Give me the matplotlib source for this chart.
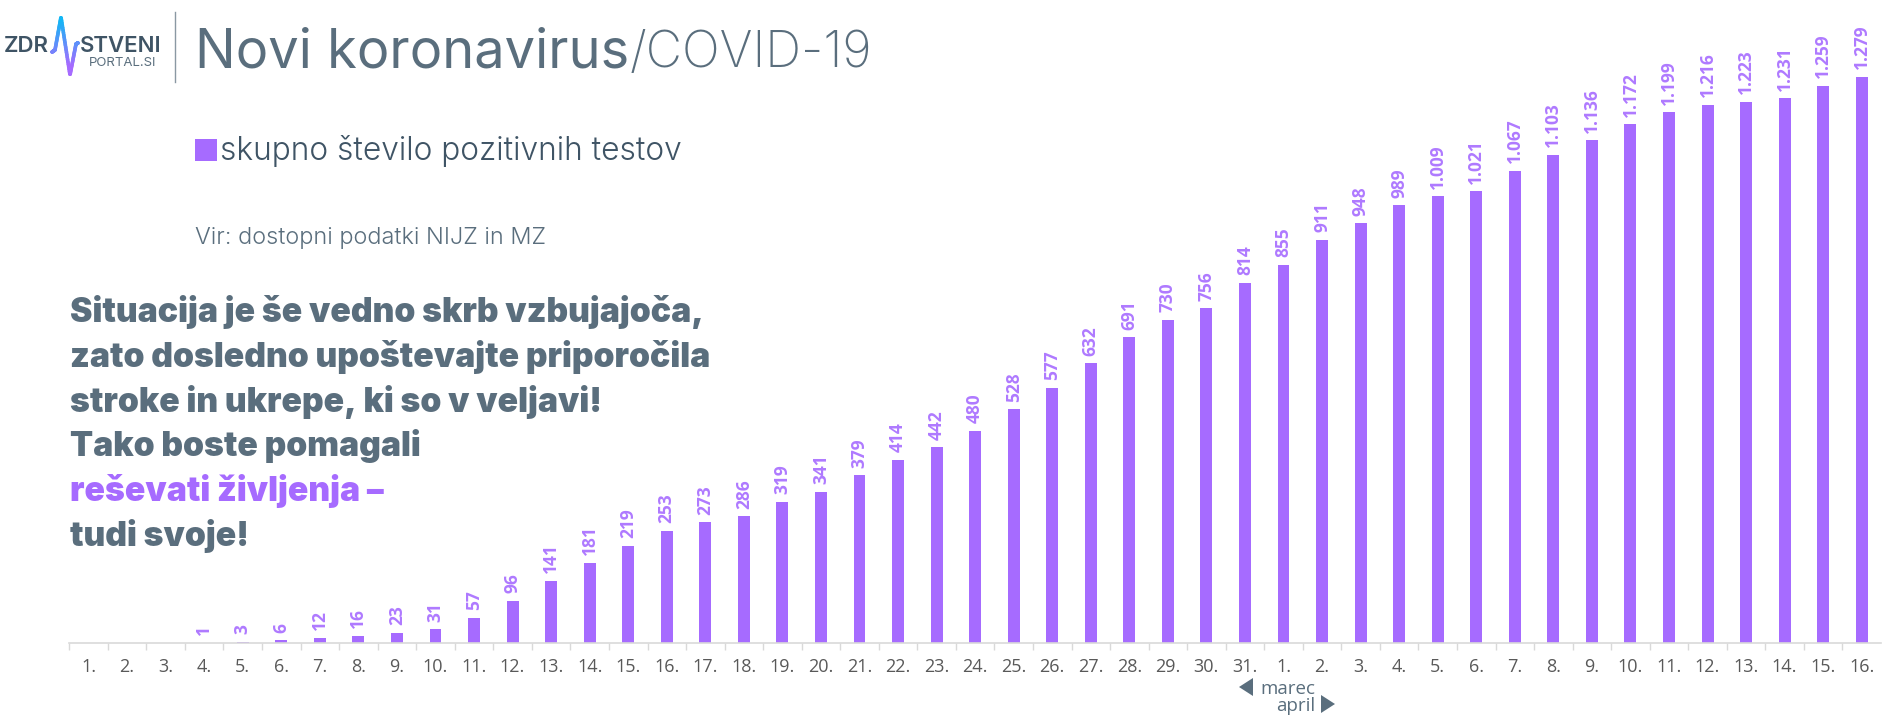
import matplotlib
matplotlib.use("Agg")
import numpy as np
import matplotlib.pyplot as plt
from matplotlib.collections import LineCollection
from matplotlib.colors import to_rgb
from matplotlib.patches import Polygon, Rectangle

# Data
days = [f"{d}." for d in range(1, 32)] + [f"{d}." for d in range(1, 17)]
positive_tests = [0, 0, 0, 1, 3, 6, 12, 16, 23, 31, 57, 96, 141, 181, 219, 253, 273, 286, 319, 341,
                  379, 414, 442, 480, 528, 577, 632, 691, 730, 756, 814, 855, 911, 948, 989, 1009,
                  1021, 1067, 1103, 1136, 1172, 1199, 1216, 1223, 1231, 1259, 1279]
message_lines = ["Situacija je še vedno skrb vzbujajoča,",
                 "zato dosledno upoštevajte priporočila",
                 "stroke in ukrepe, ki so v veljavi!",
                 "Tako boste pomagali",
                 "reševati življenja –",
                 "tudi svoje!"]

W, H = 1890, 720
PURPLE = "#A66BFF"
SLATE = "#5A6E7D"
DARK = "#3F5465"

fig = plt.figure(figsize=(W / 100, H / 100), dpi=100)

# Pixel overlay for all the text around the chart
bg = fig.add_axes([0, 0, 1, 1])
bg.set_xlim(0, W)
bg.set_ylim(H, 0)
bg.axis("off")

# Bars
ax = fig.add_axes([69.3 / W, (H - 643) / H, (1881 - 69.3) / W, 643 / H])
ax.patch.set_alpha(0)
x = np.arange(len(days))
ax.bar(x, positive_tests, width=0.31, color=PURPLE)
ax.set_xlim(-0.5, len(days) - 0.5)
ax.set_ylim(0, 643 / 566 * 1279)
ax.set_yticks([])
for s in ["top", "left", "right"]:
    ax.spines[s].set_visible(False)
ax.spines["bottom"].set_color("#D9D9D9")
ax.spines["bottom"].set_linewidth(1.2)

# tick marks sit between the categories, labels in the middle
ax.set_xticks(x - 0.5)
ax.set_xticklabels([])
ax.tick_params(axis="x", length=5, width=1, color="#D9D9D9")
for xi, day in zip(x, days):
    ax.annotate(day, (xi, 0), xytext=(0, -17), textcoords="offset points", ha="center", va="center",
                fontsize=13, color="#595959", family="Open Sans")

for xi, v in zip(x, positive_tests):
    if v == 0:
        continue
    label = f"{v:,}".replace(",", ".")
    ax.annotate(label, (xi, v), xytext=(0, 5.5), textcoords="offset points", ha="center", va="bottom",
                rotation=90, fontsize=12.5, color=PURPLE, family="Open Sans", fontweight=700, alpha=0.9)

# Header
bg.text(195, 67, "Novi koronavirus", fontsize=39, color=SLATE, family="Inter", fontweight=400, va="baseline")
bg.text(630, 67, "/COVID-19", fontsize=36, color=SLATE, family="Inter", fontweight=200, va="baseline")
bg.plot([175, 175], [12, 82], color="#8A98A3", lw=1)

# Logo
bg.text(4, 52, "ZDR", fontsize=16, color=DARK, family="Inter", fontweight=600, va="baseline")
bg.text(80, 52, "STVENI", fontsize=16, color=DARK, family="Inter", fontweight=600, va="baseline")
bg.text(123, 66, "PORTAL.SI", fontsize=9.5, color=SLATE, family="Inter", fontweight=400, va="baseline", ha="center")
logo_x = np.array([52, 55, 61, 70, 76, 78])
logo_y = np.array([52, 50, 17, 75, 44, 43])
t = np.linspace(0, len(logo_x) - 1, 120)
px = np.interp(t, np.arange(len(logo_x)), logo_x)
py = np.interp(t, np.arange(len(logo_y)), logo_y)
top_col, low_col = np.array(to_rgb("#12B7F5")), np.array(to_rgb(PURPLE))
mix = np.clip((py[:-1] - 20) / 45, 0, 1)[:, None]
segs = np.stack([np.column_stack([px[:-1], py[:-1]]), np.column_stack([px[1:], py[1:]])], axis=1)
bg.add_collection(LineCollection(segs, colors=top_col * (1 - mix) + low_col * mix, linewidths=2.6, capstyle="round"))

# Legend and source
bg.add_patch(Rectangle((195, 139), 22, 22, color=PURPLE, lw=0))
bg.text(220, 160, "skupno število pozitivnih testov", fontsize=22.8, color=DARK, family="Inter", fontweight=300, va="baseline")
bg.text(195, 244, "Vir: dostopni podatki NIJZ in MZ", fontsize=16.9, color=SLATE, family="Inter", fontweight=300, va="baseline")

# Message block
for i, line in enumerate(message_lines):
    c = PURPLE if i == 4 else SLATE
    bg.text(70, 322 + i * 44.8, line, fontsize=24.3, color=c, family="Inter", fontweight=900, va="baseline")

# marec / april marker
bg.text(1260, 694, "marec", fontsize=13.5, color=SLATE, family="Open Sans", va="baseline")
bg.text(1276, 711, "april", fontsize=13.5, color=SLATE, family="Open Sans", va="baseline")
bg.add_patch(Polygon([(1239, 687), (1253, 678), (1253, 696)], color=SLATE, lw=0))
bg.add_patch(Polygon([(1335, 704), (1321, 695), (1321, 713)], color=SLATE, lw=0))

fig.savefig("out.png", dpi=100, facecolor="white")
